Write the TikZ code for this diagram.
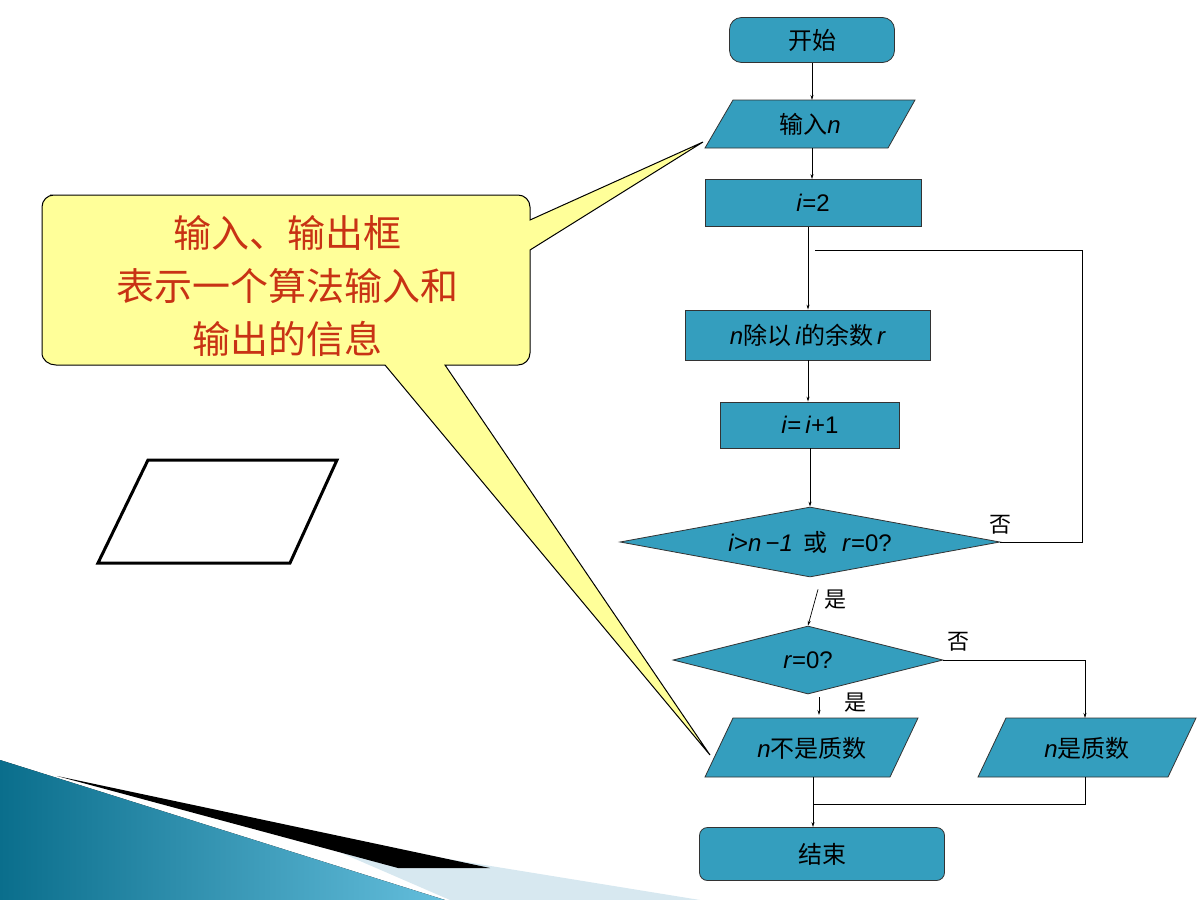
\documentclass[tikz,border=0pt]{standalone}
\usepackage{fontspec}
\setmainfont{Liberation Sans}
\newfontfamily\cjk{Noto Sans CJK SC}
\usetikzlibrary{shapes.geometric,arrows.meta}
\definecolor{boxc}{RGB}{52,158,190}
\definecolor{callc}{RGB}{255,255,153}
\definecolor{redt}{RGB}{200,50,20}
\definecolor{tealA}{RGB}{10,110,140}
\definecolor{tealB}{RGB}{100,190,220}
\definecolor{paleB}{RGB}{215,232,240}
\begin{document}
\begin{tikzpicture}[x=1pt,y=-1pt,
  txt/.style={font=\fontsize{24}{26}\selectfont},
  box/.style={draw=black!80,fill=boxc,line width=0.8pt,txt},
  ln/.style={line width=0.7pt},
  ar/.style={ln,-{Stealth[length=5pt,width=3pt]}},
  lab/.style={font=\fontsize{22}{24}\selectfont\cjk}]
\useasboundingbox (0,0) rectangle (1200,900);
% decoration
\fill[left color=tealA,right color=tealB] (0,760) -- (445,900) -- (0,900) -- cycle;
\fill[paleB] (300,835) -- (700,900) -- (450,900) -- cycle;
\fill[black] (57,776) -- (490,868) -- (398,868) -- cycle;
% callout
\draw[fill=callc,line width=1pt] (50,195) -- (518,195) to[out=0,in=90] (530,207) -- (530,220) -- (703,142) -- (530,250) -- (530,353) to[out=-90,in=0] (518,365) -- (445,365) -- (710,755) -- (385,365) -- (56,365) to[out=180,in=-90] (42,353) -- (42,207) to[out=90,in=180] (54,195) -- cycle;
\node[name=call,align=center,text=redt,font=\fontsize{38}{53}\selectfont\cjk] at (287,286) {输入、输出框\\表示一个算法输入和\\输出的信息};
\draw[line width=3pt] (148,460) -- (337,460) -- (290,563) -- (98,563) -- cycle;
% flowchart
\node[box,rounded corners=12pt,minimum width=165,minimum height=45] (start) at (812,40) {\cjk 开始};
\draw[box] (733,100) -- (915,100) -- (888,148) -- (705,148) -- cycle;
\node[txt] (in) at (810,124) {{\cjk 输入}\textit{n}};
\node[box,minimum width=216,minimum height=47] (i2) at (813,203) {\textit{i}=2};
\node[box,minimum width=245,minimum height=50] (div) at (808,335) {\textit{n}{\cjk 除以}\,\textit{i}{\cjk 的余数}\,\textit{r}};
\node[box,minimum width=179,minimum height=46] (inc) at (810,425) {\textit{i}=\,\textit{i}+1};
\node[box,diamond,aspect=5.4,inner sep=0pt,minimum width=380,minimum height=70] (d1) at (810,542) {\textit{i}>\textit{n}\,\textit{−1}\, {\cjk 或}\,\, \textit{r}=0?};
\node[box,diamond,aspect=4,inner sep=0pt,minimum width=270,minimum height=68] (d2) at (808,660) {\textit{r}=0?};
\draw[box] (733,718) -- (918,718) -- (890,777) -- (705,777) -- cycle;
\node[txt] (np) at (812,748) {\textit{n}{\cjk 不是质数}};
\draw[box] (1006,718) -- (1196,718) -- (1168,777) -- (978,777) -- cycle;
\node[txt] (p) at (1087,748) {\textit{n}{\cjk 是质数}};
\node[box,rounded corners=8pt,minimum width=245,minimum height=53] (end) at (822,854) {\cjk 结束};
% connectors
\draw[ar] (start.south) -- (812,100);
\draw[ar] (812,148) -- (i2.north -| 812,0);
\draw[ar] (808,227) -- (div.north);
\draw[ar] (div.south) -- (inc.north -| div.south);
\draw[ar] (inc.south) -- (d1.north);
\draw[ln] (d1.east) -- (1082,542) -- (1082,250) -- (815,250);
\node[lab] at (1000,525) {否};
\draw[ar] (d1.south) ++(8,12) -- (d2.north);
\node[lab] at (835,600) {是};
\draw[ln] (d2.east) -- (1085,660);
\draw[ar] (1085,660) -- (1085,718);
\node[lab] at (958,642) {否};
\draw[ar] (819,697) -- (819,715);
\node[lab] at (855,703) {是};
\draw[ln] (813,777) -- (813,804) -- (1085,804) -- (1085,777);
\draw[ar] (813,804) -- (end.north -| 813,0);
\end{tikzpicture}
\end{document}
